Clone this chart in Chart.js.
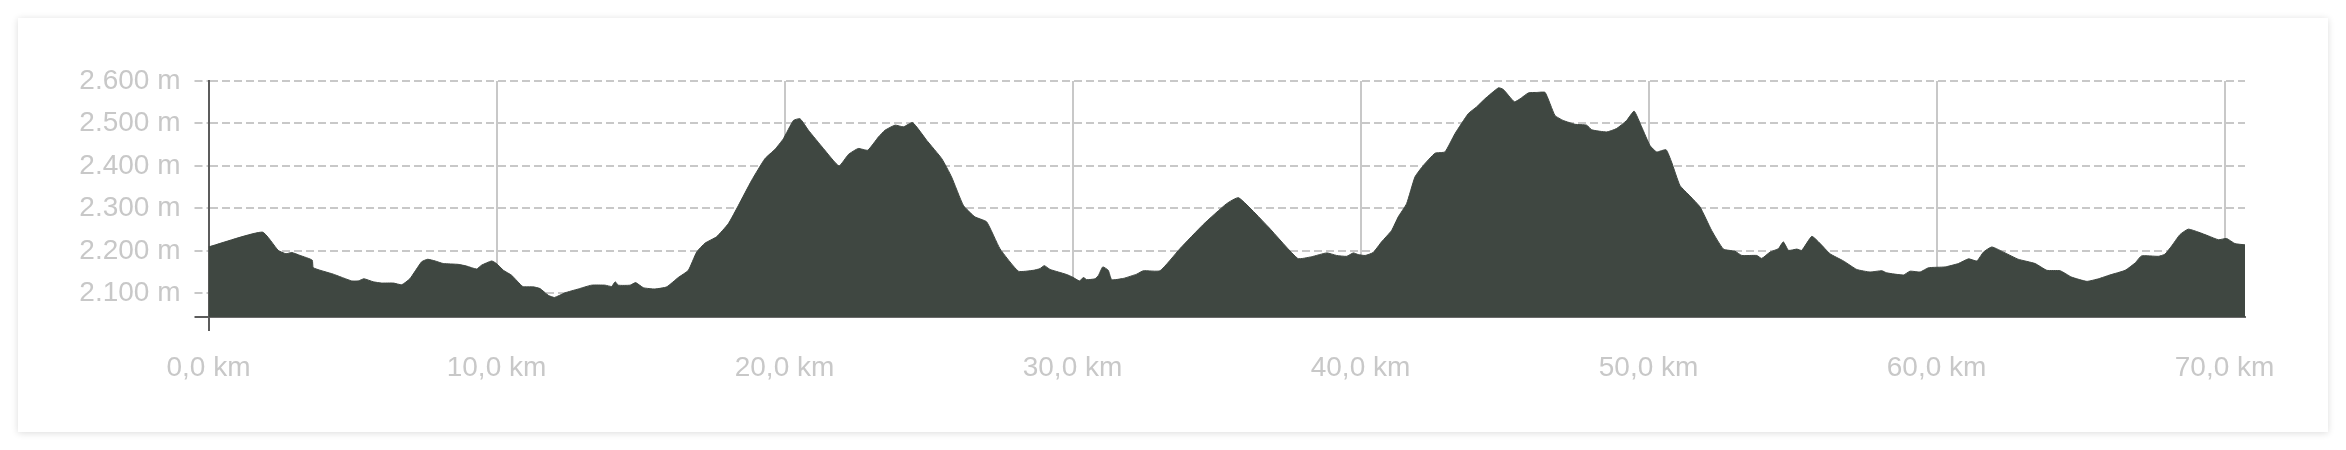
<!DOCTYPE html>
<html>
<head>
<meta charset="utf-8">
<title>Höhenprofil</title>
<script src="https://cdn.jsdelivr.net/npm/chart.js@4/dist/chart.umd.min.js"></script>
<style>
  html, body { margin: 0; padding: 0; background: #fff; }
  #card {
    position: absolute; left: 18px; top: 18px; width: 2310px; height: 414px;
    background: #fff; box-shadow: 0 1px 7px rgba(0,0,0,0.14);
  }
</style>
</head>
<body>
<div id="card"><canvas id="profil"></canvas></div>
<script>
// distance (km) and elevation (m), read from the profile
var distKm = [0, 1.87, 2.42, 2.69, 2.89, 3.18, 3.60, 3.64, 4.33, 4.97, 5.20, 5.40, 5.72, 6.01, 6.42, 6.71, 6.99,
  7.40, 7.61, 7.87, 8.15, 8.67, 8.96, 9.31, 9.48, 9.83, 10.00, 10.24, 10.53, 10.91, 11.28, 11.51, 11.80,
  12.01, 12.38, 12.84, 13.30, 13.77, 14.00, 14.12, 14.23, 14.64, 14.83, 15.10, 15.50, 15.91, 16.31, 16.66,
  16.95, 17.24, 17.64, 18.05, 18.40, 18.86, 19.32, 19.67, 19.96, 20.31, 20.54, 20.83, 21.35, 21.89, 22.22,
  22.56, 22.89, 23.26, 23.49, 23.84, 24.13, 24.45, 24.94, 25.46, 25.80, 26.21, 26.61, 27.02, 27.48, 28.12,
  28.64, 28.87, 29.02, 29.22, 29.51, 29.80, 30.00, 30.24, 30.38, 30.49, 30.78, 30.90, 31.05, 31.24, 31.36,
  31.77, 32.23, 32.46, 33.04, 33.73, 34.54, 35.35, 35.77, 36.80, 37.82, 38.30, 38.83, 39.17, 39.52, 39.75,
  39.92, 40.16, 40.44, 40.73, 41.08, 41.31, 41.60, 41.89, 42.18, 42.59, 42.93, 43.28, 43.74, 44.03, 44.32,
  44.79, 44.96, 45.34, 45.54, 45.83, 46.12, 46.41, 46.75, 47.04, 47.45, 47.85, 48.03, 48.55, 48.89, 49.24,
  49.50, 49.76, 50.05, 50.28, 50.61, 50.80, 51.09, 51.44, 51.79, 52.19, 52.60, 53.00, 53.24, 53.76, 53.93,
  54.22, 54.51, 54.68, 54.86, 55.15, 55.32, 55.67, 55.96, 56.30, 56.77, 57.23, 57.69, 58.10, 58.27, 58.85,
  59.08, 59.43, 59.72, 60.30, 60.76, 61.11, 61.40, 61.63, 61.92, 62.38, 62.84, 63.42, 63.83, 64.29, 64.69,
  65.22, 65.62, 66.02, 66.55, 66.89, 67.12, 67.70, 67.93, 68.16, 68.45, 68.74, 69.09, 69.44, 69.79, 70.07,
  70.36, 70.71];
var hoehe = [2209, 2244, 2201, 2193, 2196, 2189, 2178, 2160, 2145, 2129, 2129, 2134, 2127, 2124, 2124, 2120, 2134,
  2174, 2180, 2176, 2170, 2168, 2164, 2157, 2166, 2176, 2170, 2154, 2142, 2116, 2115, 2111, 2095,
  2090, 2101, 2110, 2119, 2119, 2116, 2127, 2119, 2119, 2125, 2113, 2110, 2115, 2137, 2154,
  2197, 2218, 2233, 2264, 2307, 2366, 2417, 2439, 2464, 2507, 2511, 2484, 2441, 2400, 2427,
  2441, 2437, 2468, 2484, 2496, 2492, 2502, 2460, 2417, 2374, 2307, 2280, 2268, 2205, 2152,
  2154, 2158, 2165, 2156, 2150, 2144, 2138, 2129, 2137, 2132, 2134, 2142, 2162, 2154, 2132,
  2135, 2145, 2153, 2153, 2205, 2262, 2311, 2325, 2256, 2182, 2186, 2195, 2189, 2187, 2195,
  2191, 2189, 2196, 2221, 2248, 2280, 2311, 2374, 2401, 2430, 2433, 2476, 2523, 2539, 2558,
  2584, 2580, 2551, 2558, 2572, 2573, 2573, 2519, 2507, 2498, 2496, 2485, 2480, 2488, 2507,
  2529, 2492, 2448, 2433, 2438, 2409, 2354, 2329, 2303, 2248, 2204, 2199, 2189, 2189, 2182,
  2197, 2205, 2221, 2201, 2204, 2201, 2234, 2217, 2193, 2176, 2156, 2150, 2153, 2148, 2143,
  2152, 2150, 2160, 2162, 2170, 2181, 2176, 2197, 2209, 2195, 2180, 2170, 2154, 2153, 2138,
  2128, 2134, 2143, 2154, 2171, 2188, 2187, 2192, 2211, 2238, 2251, 2244, 2235, 2226, 2229,
  2217, 2214];

var yMin = 2044, yMax = 2600, yStep = 100;
var xMin = 0, xMax = 70.71, xStep = 10;

var grau = '#c8c8c8';
var achse = '#5c5c5c';

var punkte = [];
for (var i = 0; i < distKm.length; i++) {
  punkte.push({ x: distKm[i], y: hoehe[i] });
}

function meter(v) {
  var s = String(Math.round(v));
  return s.replace(/\B(?=(\d{3})+(?!\d))/g, '.') + ' m';
}

new Chart(document.getElementById('profil'), {
  type: 'line',
  data: {
    datasets: [{
      data: punkte,
      backgroundColor: '#3f4741',
      borderColor: '#3f4741',
      borderWidth: 1,
      fill: 'start',
      pointRadius: 0,
      tension: 0.15
    }]
  },
  options: {
    responsive: true,
    maintainAspectRatio: false,
    animation: false,
    layout: { padding: { left: 62, top: 63, right: 83, bottom: 47 } },
    plugins: { legend: { display: false }, tooltip: { enabled: false } },
    scales: {
      x: {
        type: 'linear', min: xMin, max: xMax, z: 1,
        afterFit: function (s) { s.height = 68; },
        ticks: {
          stepSize: xStep, includeBounds: false, padding: 20, maxRotation: 0, autoSkip: false,
          color: grau, font: { family: 'Liberation Sans', size: 28 },
          callback: function (v) { return v.toFixed(1).replace('.', ',') + ' km'; }
        },
        grid: {
          lineWidth: 2, tickLength: 14, tickWidth: 2,
          color: function (c) { return c.tick && c.tick.value === 0 ? 'rgba(0,0,0,0)' : grau; },
          tickColor: function (c) { return c.tick && c.tick.value === 0 ? achse : 'rgba(0,0,0,0)'; }
        },
        border: { color: '#6a6a6a', width: 2 }
      },
      y: {
        min: yMin, max: yMax, z: 1,
        afterBuildTicks: function (s) { s.ticks.unshift({ value: s.min }); },
        afterFit: function (s) { s.width = 128.5; },
        ticks: {
          stepSize: yStep, includeBounds: false, padding: 14, autoSkip: false,
          color: grau, font: { family: 'Liberation Sans', size: 28 },
          callback: function (v) { return v === yMin ? '' : meter(v); }
        },
        grid: {
          lineWidth: 2, tickLength: 14, tickWidth: 2,
          color: function (c) { return c.tick && c.tick.value === yMin ? achse : grau; },
          tickColor: function (c) { return c.tick && c.tick.value === yMin ? achse : grau; },
          tickBorderDash: function (c) { return c.tick && c.tick.value === yMin ? [] : [8, 4]; }
        },
        border: {
          color: achse, width: 2,
          dash: function (c) { return c.tick && c.tick.value === yMin ? [] : [8, 4]; }
        }
      }
    }
  }
});
</script>
</body>
</html>
